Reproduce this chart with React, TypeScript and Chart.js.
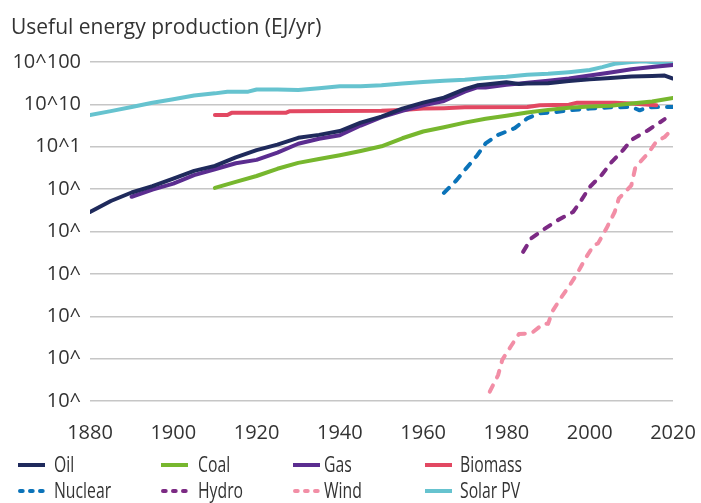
import React, { useEffect, useRef } from "react";
import { Chart, registerables } from "chart.js";

Chart.register(...registerables);

// Y values are in grid steps counted from the bottom gridline (one step per labelled power of ten)
const yTickLabels = ["10^", "10^", "10^", "10^", "10^", "10^", "10^1", "10^10", "10^100"];
const xTickYears = [1880, 1900, 1920, 1940, 1960, 1980, 2000, 2020];
const titleText = "Useful energy production (EJ/yr)";

const oilYears = [1880, 1885, 1890, 1895, 1900, 1905, 1910, 1915, 1920, 1925, 1930, 1935, 1940, 1945, 1950, 1955, 1960, 1965, 1970, 1973, 1975, 1980, 1983, 1985, 1990, 1995, 2000, 2005, 2010, 2015, 2018, 2020];
const oilValues = [4.46, 4.72, 4.92, 5.07, 5.25, 5.43, 5.55, 5.75, 5.92, 6.05, 6.21, 6.28, 6.37, 6.57, 6.71, 6.9, 7.04, 7.16, 7.36, 7.45, 7.47, 7.52, 7.48, 7.49, 7.5, 7.55, 7.59, 7.62, 7.66, 7.67, 7.68, 7.61];

const coalYears = [1910, 1915, 1920, 1925, 1930, 1935, 1940, 1945, 1950, 1955, 1960, 1965, 1970, 1975, 1980, 1985, 1990, 1995, 2000, 2005, 2010, 2015, 2020];
const coalValues = [5.03, 5.17, 5.31, 5.48, 5.62, 5.71, 5.8, 5.9, 6.01, 6.2, 6.36, 6.46, 6.57, 6.66, 6.73, 6.81, 6.87, 6.92, 6.95, 6.97, 7.02, 7.07, 7.15];

const gasYears = [1890, 1895, 1900, 1905, 1910, 1915, 1920, 1925, 1930, 1935, 1940, 1945, 1950, 1955, 1960, 1965, 1970, 1973, 1975, 1980, 1985, 1990, 1995, 2000, 2005, 2010, 2015, 2020];
const gasValues = [4.82, 4.99, 5.13, 5.33, 5.47, 5.61, 5.69, 5.86, 6.07, 6.19, 6.27, 6.5, 6.7, 6.85, 6.98, 7.08, 7.3, 7.4, 7.4, 7.46, 7.51, 7.56, 7.61, 7.68, 7.75, 7.83, 7.88, 7.93];

const biomassYears = [1910, 1913, 1914, 1927, 1928, 1950, 1955, 1960, 1965, 1970, 1985, 1988, 1995, 1997, 2006, 2010, 2016];
const biomassValues = [6.75, 6.75, 6.8, 6.8, 6.84, 6.85, 6.87, 6.9, 6.91, 6.93, 6.94, 6.98, 6.99, 7.04, 7.04, 7.02, 6.98];

const nuclearYears = [1965, 1968, 1970, 1973, 1975, 1978, 1982, 1985, 1988, 1992, 1995, 2000, 2005, 2010, 2012, 2014, 2017, 2020];
const nuclearValues = [4.91, 5.21, 5.45, 5.8, 6.08, 6.28, 6.44, 6.67, 6.79, 6.82, 6.86, 6.9, 6.93, 6.94, 6.86, 6.93, 6.94, 6.94];

const hydroYears = [1984, 1986, 1989, 1992, 1996, 1998, 2000, 2003, 2005, 2008, 2010, 2014, 2018];
const hydroValues = [3.52, 3.84, 4.05, 4.25, 4.46, 4.74, 5.05, 5.35, 5.61, 5.92, 6.16, 6.39, 6.65];

const windYears = [1976, 1978, 1979, 1981, 1983, 1986, 1989, 1990, 1991, 1993, 1995, 1997, 1999, 2001, 2002, 2004, 2006, 2007, 2010, 2011, 2014, 2016, 2018, 2020];
const windValues = [0.22, 0.61, 0.97, 1.28, 1.58, 1.6, 1.83, 1.82, 2.11, 2.42, 2.7, 3.01, 3.37, 3.68, 3.72, 4.07, 4.46, 4.78, 5.09, 5.53, 5.84, 6.12, 6.23, 6.43];

const solarYears = [1880, 1885, 1890, 1895, 1900, 1905, 1910, 1913, 1918, 1920, 1925, 1930, 1935, 1940, 1945, 1950, 1955, 1960, 1965, 1970, 1975, 1980, 1985, 1990, 1995, 2000, 2003, 2006, 2010, 2013, 2016, 2020];
const solarValues = [6.75, 6.84, 6.94, 7.04, 7.12, 7.21, 7.26, 7.3, 7.3, 7.35, 7.35, 7.34, 7.38, 7.43, 7.43, 7.45, 7.49, 7.53, 7.56, 7.58, 7.62, 7.65, 7.7, 7.72, 7.76, 7.81, 7.88, 7.96, 8.0, 8.02, 7.99, 7.96];

const FONT = "'Open Sans', 'Noto Sans', sans-serif";
const TEXT = "#333333";

const titlePlugin = {
  id: "topTitle",
  afterDraw(chart: any) {
    const ctx = chart.ctx;
    ctx.save();
    ctx.font = `21px ${FONT}`;
    ctx.fillStyle = TEXT;
    ctx.textAlign = "left";
    ctx.textBaseline = "alphabetic";
    ctx.fillText(titleText, 11, 34);
    ctx.restore();
  },
};

const legendCols = [
  { lx: 18, tx: 54 },
  { lx: 161, tx: 198 },
  { lx: 293, tx: 324 },
  { lx: 425, tx: 460 },
];
const legendRows = [465, 491];

const legendPlugin = {
  id: "gridLegend",
  afterDraw(chart: any) {
    const ctx = chart.ctx;
    chart.data.datasets.forEach((ds: any, i: number) => {
      const col = legendCols[i % 4];
      const y = legendRows[Math.floor(i / 4)];
      const dashed = ds.borderDash && ds.borderDash.length > 0;
      ctx.save();
      ctx.strokeStyle = ds.borderColor;
      ctx.lineWidth = 4;
      ctx.beginPath();
      if (dashed) {
        ctx.lineCap = "round";
        ctx.setLineDash([2.7, 7.3]);
        ctx.moveTo(col.lx + 2, y);
        ctx.lineTo(col.lx + 27, y);
      } else {
        ctx.lineCap = "butt";
        ctx.moveTo(col.lx, y);
        ctx.lineTo(col.lx + 27, y);
      }
      ctx.stroke();
      ctx.restore();

      ctx.save();
      ctx.font = `21px ${FONT}`;
      ctx.fillStyle = TEXT;
      ctx.textAlign = "left";
      ctx.textBaseline = "middle";
      ctx.translate(col.tx, y + 1);
      ctx.scale(0.75, 1);
      ctx.fillText(ds.label, 0, 0);
      ctx.restore();
    });
  },
};

function series(label: string, xs: number[], ys: number[], color: string, dashed: boolean) {
  return {
    label,
    data: xs.map((x, i) => ({ x, y: ys[i] })),
    borderColor: color,
    backgroundColor: color,
    borderWidth: 4,
    pointRadius: 0,
    pointHoverRadius: 0,
    tension: 0,
    fill: false,
    borderDash: dashed ? [7, 9] : [],
    borderCapStyle: "round",
    borderJoinStyle: "round",
  };
}

export default function App() {
  const ref = useRef<HTMLCanvasElement>(null);

  useEffect(() => {
    if (!ref.current) return;
    const chart = new Chart(ref.current, {
      type: "line",
      data: {
        datasets: [
          series("Oil", oilYears, oilValues, "#1f2a5c", false),
          series("Coal", coalYears, coalValues, "#77b72e", false),
          series("Gas", gasYears, gasValues, "#5b2d90", false),
          series("Biomass", biomassYears, biomassValues, "#e24862", false),
          series("Nuclear", nuclearYears, nuclearValues, "#0b73b9", true),
          series("Hydro", hydroYears, hydroValues, "#7c2a84", true),
          series("Wind", windYears, windValues, "#f28ea6", true),
          series("Solar PV", solarYears, solarValues, "#66c3cf", false),
        ] as any,
      },
      options: {
        animation: false,
        responsive: false,
        layout: { padding: { left: 0, right: 28, top: 62, bottom: 62 } },
        plugins: { legend: { display: false }, tooltip: { enabled: false }, title: { display: false } },
        scales: {
          x: {
            type: "linear",
            min: 1880,
            max: 2020,
            grid: { display: false, drawTicks: false },
            border: { display: false },
            afterBuildTicks: (scale: any) => {
              scale.ticks = xTickYears.map((v) => ({ value: v }));
            },
            ticks: {
              padding: 20,
              color: TEXT,
              font: { family: FONT, size: 20 },
              maxRotation: 0,
              autoSkip: false,
              callback: (v: any) => String(v),
            },
            afterFit: (scale: any) => {
              scale.height = 40;
              scale.paddingLeft = 0;
              scale.paddingRight = 0;
            },
          },
          y: {
            type: "linear",
            min: 0,
            max: 8,
            grid: { color: "#c6c6c6", lineWidth: 1.5, drawTicks: false },
            border: { display: false },
            ticks: {
              stepSize: 1,
              padding: 9,
              color: TEXT,
              font: { family: FONT, size: 20 },
              callback: (v: any) => yTickLabels[Math.round(Number(v))] ?? "",
            },
            afterFit: (scale: any) => {
              scale.width = 90;
              scale.paddingTop = 0;
              scale.paddingBottom = 0;
            },
          },
        },
      } as any,
      plugins: [titlePlugin, legendPlugin],
    });
    return () => chart.destroy();
  }, []);

  return (
    <div style={{ position: "absolute", left: 0, top: 0, width: 701, height: 503, background: "#ffffff" }}>
      <canvas ref={ref} width={701} height={503} style={{ display: "block" }} />
    </div>
  );
}
